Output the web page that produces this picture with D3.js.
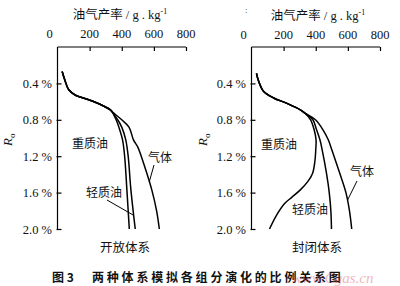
<!DOCTYPE html>
<html><head><meta charset="utf-8">
<script src="https://cdn.jsdelivr.net/npm/d3@7/dist/d3.min.js"></script>
<style>body{margin:0;background:#fff}svg{display:block}</style>
</head><body>
<script>
// ---- data ----
const xTicks = [0, 200, 400, 600, 800];
const roTicks = [0.4, 0.8, 1.2, 1.6, 2.0];
const roTickLabels = ["0.4 %", "0.8 %", "1.2 %", "1.6 %", "2.0 %"];
const xTitle = "油气产率 / g . kg";
const panelNames = ["开放体系", "封闭体系"];
const seriesNames = ["重质油", "轻质油", "气体"];

// open system (left)
const openCommonRo = [0.27, 0.36, 0.47, 0.53, 0.58, 0.64, 0.69, 0.71];
const openCommonV  = [29, 45, 70, 112, 194, 277, 329, 339];
const openHeavyRo = [0.8, 0.88, 1.02, 1.2, 1.57, 2.0];
const openHeavyV  = [365, 382, 405, 418, 432, 447];
const openLightRo = [0.8, 0.88, 1.02, 1.2, 1.57, 2.0];
const openLightV  = [375, 400, 425, 440, 457, 484];
const openGasRo = [0.8, 0.88, 1.02, 1.1, 1.3, 1.57, 1.8, 2.0];
const openGasV  = [400, 445, 473, 500, 540, 587, 617, 634];

// closed system (right)
const closedCommonRo = [0.29, 0.38, 0.49, 0.56, 0.62, 0.69, 0.73];
const closedCommonV  = [31, 45, 76, 138, 221, 304, 335];
const closedHeavyRo = [0.8, 0.91, 1.02, 1.13, 1.25, 1.39, 1.48, 1.57, 1.65, 1.72, 1.86, 2.0];
const closedHeavyV  = [368, 390, 402, 400, 395, 380, 350, 304, 252, 206, 152, 112];
const closedLightRo = [0.8, 0.91, 1.02, 1.13, 1.39, 1.6, 1.8, 2.0];
const closedLightV  = [382, 405, 426, 440, 467, 484, 494, 498];
const closedGasRo = [0.8, 0.91, 1.02, 1.13, 1.39, 1.6, 1.8, 2.0];
const closedGasV  = [398, 445, 478, 500, 550, 588, 610, 624];

// ---- drawing ----
const W = 400, H = 286;
const svg = d3.select("body").append("svg").attr("width", W).attr("height", H);
const serif = "'Liberation Serif','Noto Sans CJK SC',serif";
const cjk = "'Liberation Serif','Noto Sans CJK SC',sans-serif";

function zipSeries(cRo, cV, ro, v) {
  return cRo.map((r, i) => ({ro: r, v: cV[i]})).concat(ro.map((r, i) => ({ro: r, v: v[i]})));
}

const panels = [
  {x0: 57.5, x1: 186, titleX: 120, titleY: 19, tickY: 38, axisLabelX: 12,
   series: [zipSeries(openCommonRo, openCommonV, openHeavyRo, openHeavyV),
            zipSeries(openCommonRo, openCommonV, openLightRo, openLightV),
            zipSeries(openCommonRo, openCommonV, openGasRo, openGasV)],
   name: panelNames[0], nameX: 125,
   labels: [{t: seriesNames[0], x: 90, y: 148}, {t: seriesNames[1], x: 104, y: 197}, {t: seriesNames[2], x: 160, y: 162}],
   pointers: [{s: 1, ro: 1.85, from: [107, 200]}, {s: 2, ro: 1.48, from: [154, 165]}]},
  {x0: 251.5, x1: 380, titleX: 318, titleY: 20, tickY: 39, axisLabelX: 207,
   series: [zipSeries(closedCommonRo, closedCommonV, closedHeavyRo, closedHeavyV),
            zipSeries(closedCommonRo, closedCommonV, closedLightRo, closedLightV),
            zipSeries(closedCommonRo, closedCommonV, closedGasRo, closedGasV)],
   name: panelNames[1], nameX: 317,
   labels: [{t: seriesNames[0], x: 279, y: 149}, {t: seriesNames[1], x: 310, y: 214}, {t: seriesNames[2], x: 362, y: 176}],
   pointers: [{s: 2, ro: 1.68, from: [357, 181]}]}
];

const yTop = 47, yBot = 229;

panels.forEach(p => {
  const x = d3.scaleLinear().domain([0, 800]).range([p.x0, p.x1]);
  const y = d3.scaleLinear().domain([0, 2.0]).range([yTop, yBot]);
  const g = svg.append("g");

  // top axis
  const top = g.append("g").attr("transform", `translate(0,${yTop})`)
    .call(d3.axisTop(x).tickValues(xTicks).tickSize(-4).tickFormat(""));
  top.select(".domain").attr("stroke", "#000").attr("stroke-width", 1.2).attr("d", `M${p.x0},0H${p.x1}`);
  top.selectAll(".tick line").attr("stroke", "#000").attr("stroke-width", 1.2)
    .filter(d => d === 0).remove();
  g.selectAll(".xlab").data(xTicks).join("text")
    .attr("x", d => d === 0 ? x(d) - 8 : x(d)).attr("y", p.tickY)
    .attr("text-anchor", "middle").attr("font-family", serif).attr("font-size", 12.5)
    .attr("fill", "#111").text(d => d);

  // left axis
  const left = g.append("g").attr("transform", `translate(${p.x0},0)`)
    .call(d3.axisLeft(y).tickValues(roTicks).tickSize(-4).tickFormat(""));
  left.select(".domain").attr("stroke", "#000").attr("stroke-width", 1.2).attr("d", `M0,${yTop}V${yBot}`);
  left.selectAll(".tick line").attr("stroke", "#000").attr("stroke-width", 1.2).attr("x1", -1);
  g.selectAll(".ylab").data(roTicks).join("text")
    .attr("x", p.x0 - 5.5).attr("y", d => y(d) + 4.5)
    .attr("text-anchor", "end").attr("font-family", serif).attr("font-size", 12.5)
    .attr("fill", "#111").text((d, i) => roTickLabels[i]);

  // axis title
  const t = g.append("text").attr("x", p.titleX).attr("y", p.titleY).attr("text-anchor", "middle")
    .attr("font-family", cjk).attr("font-size", 12.5).attr("fill", "#111");
  t.append("tspan").text(xTitle);
  t.append("tspan").attr("dy", -5).attr("font-size", 8).text("-1");

  // Ro label
  const r = g.append("text").attr("transform", `translate(${p.axisLabelX},${146}) rotate(-90)`)
    .attr("font-family", serif).attr("font-size", 13).attr("fill", "#111");
  r.append("tspan").attr("font-style", "italic").text("R");
  r.append("tspan").attr("dy", 3).attr("font-size", 9).text("o");

  // curves
  const line = d3.line().x(d => x(d.v)).y(d => y(d.ro)).curve(d3.curveCatmullRom.alpha(0.5));
  g.selectAll(".curve").data(p.series).join("path")
    .attr("d", line).attr("fill", "none").attr("stroke", "#000").attr("stroke-width", 1.5);

  // series labels
  p.labels.forEach(l => {
    g.append("text").attr("x", l.x).attr("y", l.y).attr("text-anchor", "middle")
      .attr("font-family", cjk).attr("font-size", 12).attr("fill", "#111").text(l.t);
  });
  // pointer lines
  p.pointers.forEach(pt => {
    const s = p.series[pt.s];
    const tmp = g.append("path").attr("d", line(s)).attr("fill", "none").attr("stroke", "none");
    const node = tmp.node(), len = node.getTotalLength();
    let best = null, bd = 1e9;
    for (let i = 0; i <= 400; i++) {
      const q = node.getPointAtLength(len * i / 400);
      const dd = Math.abs(q.y - y(pt.ro));
      if (dd < bd) { bd = dd; best = q; }
    }
    tmp.remove();
    g.append("line").attr("x1", pt.from[0]).attr("y1", pt.from[1]).attr("x2", best.x).attr("y2", best.y)
      .attr("stroke", "#000").attr("stroke-width", 1);
  });

  // panel name
  g.append("text").attr("x", p.nameX).attr("y", 252).attr("text-anchor", "middle")
    .attr("font-family", cjk).attr("font-size", 12.5).attr("fill", "#111").text(p.name);
});

// stray mark
svg.append("text").attr("x", 245).attr("y", 13).attr("font-family", serif).attr("font-size", 9).attr("fill", "#333").text(":");

// caption
svg.append("text").attr("x", 52).attr("y", 282).attr("font-family", "'Noto Sans CJK SC',sans-serif")
  .attr("font-weight", "bold").attr("font-size", 12).attr("fill", "#111").text("图 3");
svg.append("text").attr("x", 92).attr("y", 282).attr("font-family", "'Noto Sans CJK SC',sans-serif")
  .attr("font-weight", "bold").attr("font-size", 12).attr("letter-spacing", 2.8).attr("fill", "#111")
  .text("两种体系模拟各组分演化的比例关系图");
// watermark
svg.append("text").attr("x", 292).attr("y", 283).attr("font-family", "'Liberation Serif',serif")
  .attr("font-style", "italic").attr("font-size", 15).attr("fill", "#e06070").attr("opacity", 0.45)
  .text("www.Cgas.cn");
</script>
</body></html>
